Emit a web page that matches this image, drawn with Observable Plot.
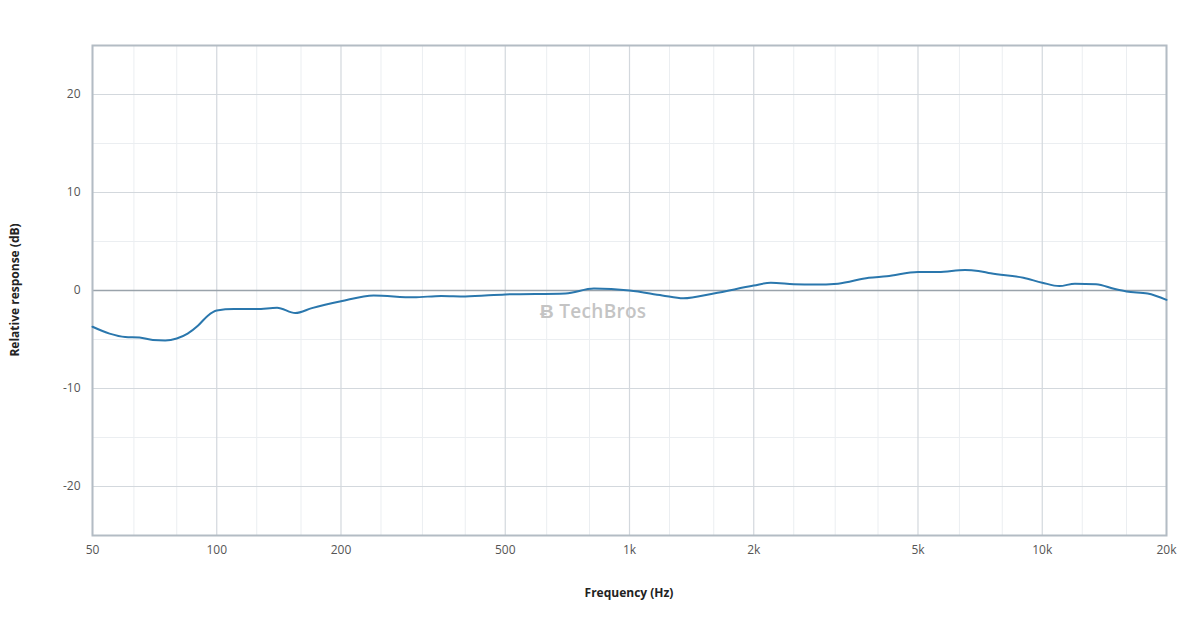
<!DOCTYPE html>
<html><head><meta charset="utf-8">
<script src="https://cdn.jsdelivr.net/npm/d3@7"></script>
<script src="https://cdn.jsdelivr.net/npm/@observablehq/plot@0.6"></script>
<style>
body{margin:0;background:#fff;font-family:"Open Sans",sans-serif;}
#wrap{position:relative;width:1200px;}
#cap{position:absolute;left:92px;top:602px;font-size:11px;color:#444;}
#wm{position:absolute;left:540px;top:298px;font-size:19px;color:#c4c4c4;font-weight:600;letter-spacing:0.3px;}
#xl{position:absolute;left:0;width:1258px;text-align:center;top:584px;font-size:12px;font-weight:bold;color:#222;}
#yl{position:absolute;left:14px;top:290px;font-size:12px;font-weight:bold;color:#222;transform:translate(-50%,-50%) rotate(-90deg);white-space:nowrap;}
</style></head><body>
<div id="wrap"><div id="chart"></div>
<div id="wm">Ƀ TechBros</div>
<div id="xl">Frequency (Hz)</div>
<div id="yl">Relative response (dB)</div>
<div id="cap">IEC 60268-style FR display: 50 Hz–20 kHz, logarithmic frequency axis, 50 dB vertical span</div></div>
<script>
const freq = [50,55,60,65,70,75,80,85,90,95,100,110,125,140,155,170,200,240,300,350,400,500,700,820,1000,1200,1350,1600,2000,2200,2500,2800,3200,3800,4200,5000,5600,6500,7000,7500,9000,10000,11000,12000,13500,15000,16000,18000,20000];
const db =   [-3.7,-4.4,-4.75,-4.8,-5.05,-5.1,-4.9,-4.4,-3.6,-2.6,-2.05,-1.9,-1.9,-1.75,-2.3,-1.8,-1.1,-0.5,-0.7,-0.55,-0.6,-0.4,-0.3,0.2,0,-0.5,-0.8,-0.3,0.5,0.8,0.65,0.6,0.7,1.3,1.45,1.9,1.9,2.1,2.0,1.75,1.3,0.8,0.45,0.7,0.65,0.15,-0.1,-0.3,-0.95];
const majorX = [50,100,200,500,1000,2000,5000,10000,20000];
const majorXLabels = ["50","100","200","500","1k","2k","5k","10k","20k"];
const minorX = [63,80,125,160,250,315,400,630,800,1250,1600,2500,3150,4000,6300,8000,12500,16000];
const majorY = [-20,-10,0,10,20];
const minorY = [-15,-5,5,15];
const data = freq.map((f,i)=>({f, v: db[i]}));
const chart = Plot.plot({
  width:1200, height:600,
  marginLeft:92, marginRight:34, marginTop:45, marginBottom:65,
  style:{fontFamily:"Open Sans, sans-serif", fontSize:"12px", color:"#555"},
  x:{type:"log", domain:[50,20000], axis:null},
  y:{domain:[-25,25], ticks:majorY, tickFormat:d=>String(d), tickSize:0, tickPadding:12, label:null},
  marks:[
    Plot.ruleX(minorX,{stroke:"#ebeef1", strokeWidth:1}),
    Plot.ruleY(minorY,{stroke:"#ebeef1", strokeWidth:1}),
    Plot.ruleX(majorX,{stroke:"#d3d8dd", strokeWidth:1.2}),
    Plot.ruleY(majorY,{stroke:"#d3d8dd", strokeWidth:1.2}),
    Plot.ruleY([0],{stroke:"#9aa3ab", strokeWidth:1.6}),
    Plot.frame({stroke:"#b3bcc4", strokeWidth:2}),
    Plot.text(majorX,{x:d=>d, frameAnchor:"bottom", dy:18, text:(d,i)=>majorXLabels[i], fill:"#555", fontSize:12}),
    Plot.line(data,{x:"f", y:"v", stroke:"#2a77ad", strokeWidth:2, curve:"monotone-x"})
  ]
});
document.getElementById("chart").append(chart);
</script></body></html>
